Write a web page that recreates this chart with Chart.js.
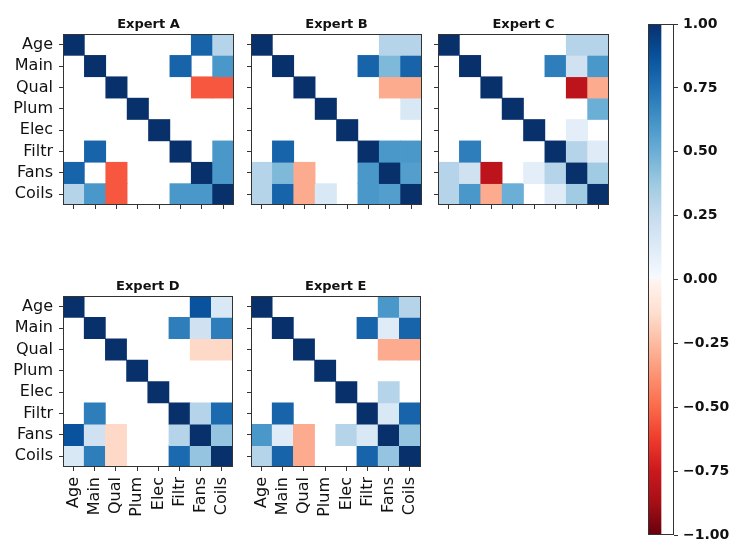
<!DOCTYPE html>
<html><head><meta charset="utf-8">
<script src="https://cdn.jsdelivr.net/npm/chart.js@4.4.0/dist/chart.umd.min.js"></script>
<style>
html,body{margin:0;padding:0;background:#fff;overflow:hidden;width:732px;height:541px;position:relative;}
canvas{position:absolute;}
</style></head><body>
<canvas id="cA"></canvas><canvas id="cB"></canvas><canvas id="cC"></canvas>
<canvas id="cD"></canvas><canvas id="cE"></canvas><canvas id="cBar"></canvas>
<script>
// ---- data ----
const categories = ["Age","Main","Qual","Plum","Elec","Filtr","Fans","Coils"];
const titles = ["Expert A","Expert B","Expert C","Expert D","Expert E"];
const _ = null;
const expertA = [
  [1,_,_,_,_,_,0.8,0.3],
  [_,1,_,_,_,0.8,_,0.6],
  [_,_,1,_,_,_,-0.55,-0.55],
  [_,_,_,1,_,_,_,_],
  [_,_,_,_,1,_,_,_],
  [_,0.8,_,_,_,1,_,0.6],
  [0.8,_,-0.55,_,_,_,1,0.6],
  [0.3,0.6,-0.55,_,_,0.6,0.6,1]
];
const expertB = [
  [1,_,_,_,_,_,0.3,0.3],
  [_,1,_,_,_,0.8,0.45,0.8],
  [_,_,1,_,_,_,-0.3,-0.3],
  [_,_,_,1,_,_,_,0.15],
  [_,_,_,_,1,_,_,_],
  [_,0.8,_,_,_,1,0.6,0.6],
  [0.3,0.45,-0.3,_,_,0.6,1,0.57],
  [0.3,0.8,-0.3,0.15,_,0.6,0.57,1]
];
const expertC = [
  [1,_,_,_,_,_,0.3,0.3],
  [_,1,_,_,_,0.7,0.2,0.6],
  [_,_,1,_,_,_,-0.8,-0.3],
  [_,_,_,1,_,_,_,0.5],
  [_,_,_,_,1,_,0.1,_],
  [_,0.7,_,_,_,1,0.3,0.12],
  [0.3,0.2,-0.8,_,0.1,0.3,1,0.37],
  [0.3,0.6,-0.3,0.5,_,0.12,0.37,1]
];
const expertD = [
  [1,_,_,_,_,_,0.87,0.15],
  [_,1,_,_,_,0.7,0.2,0.7],
  [_,_,1,_,_,_,-0.15,-0.15],
  [_,_,_,1,_,_,_,_],
  [_,_,_,_,1,_,_,_],
  [_,0.7,_,_,_,1,0.3,0.78],
  [0.87,0.2,-0.15,_,_,0.3,1,0.4],
  [0.15,0.7,-0.15,_,_,0.78,0.4,1]
];
const expertE = [
  [1,_,_,_,_,_,0.6,0.3],
  [_,1,_,_,_,0.8,0.12,0.8],
  [_,_,1,_,_,_,-0.3,-0.3],
  [_,_,_,1,_,_,_,_],
  [_,_,_,_,1,_,0.3,_],
  [_,0.8,_,_,_,1,0.15,0.8],
  [0.6,0.12,-0.3,_,0.3,0.15,1,0.4],
  [0.3,0.8,-0.3,_,_,0.8,0.4,1]
];
const colorbarTicks = [-1,-0.75,-0.5,-0.25,0,0.25,0.5,0.75,1];

// ---- colormap (Reds below 0, Blues above 0) ----
const BLUES = ['#f7fbff','#deebf7','#c6dbef','#9ecae1','#6baed6','#4292c6','#2171b5','#08519c','#08306b'];
const REDS  = ['#fff5f0','#fee0d2','#fcbba1','#fc9272','#fb6a4a','#ef3b2c','#cb181d','#a50f15','#67000d'];
function hex(h){return [parseInt(h.slice(1,3),16),parseInt(h.slice(3,5),16),parseInt(h.slice(5,7),16)];}
function interp(stops, t){
  const p = Math.max(0, Math.min(1, t)) * (stops.length - 1);
  const i = Math.min(Math.floor(p), stops.length - 2), f = p - i;
  const a = hex(stops[i]), b = hex(stops[i+1]);
  return 'rgb(' + a.map((v,k)=>Math.round(v + (b[k]-v)*f)).join(',') + ')';
}
function cmap(v){ return v >= 0 ? interp(BLUES, v) : interp(REDS, -v); }

Chart.defaults.font.family = "'DejaVu Sans', sans-serif";
Chart.defaults.color = '#111';

const framePlugin = {
  id: 'frame',
  afterDraw(chart, args, opts) {
    const {ctx, chartArea: a} = chart;
    ctx.save();
    ctx.strokeStyle = '#333'; ctx.lineWidth = 1;
    ctx.strokeRect(Math.round(a.left) + 0.5, Math.round(a.top) + 0.5,
                   Math.round(a.right) - Math.round(a.left) - 1, Math.round(a.bottom) - Math.round(a.top) - 1);
    if (opts && opts.title) {
      ctx.fillStyle = '#111';
      ctx.font = "bold 13px 'DejaVu Sans', sans-serif";
      ctx.textAlign = 'center'; ctx.textBaseline = 'alphabetic';
      ctx.fillText(opts.title, (a.left + a.right) / 2, a.top - 6);
    }
    ctx.restore();
  }
};

const panels = [
  {id:'cA', m:expertA, t:titles[0], L:63,  T:34,  R:234, B:205, yl:true,  xl:false},
  {id:'cB', m:expertB, t:titles[1], L:251, T:34,  R:422, B:205, yl:false, xl:false},
  {id:'cC', m:expertC, t:titles[2], L:438, T:34,  R:609, B:205, yl:false, xl:false},
  {id:'cD', m:expertD, t:titles[3], L:63,  T:296, R:234, B:467, yl:true,  xl:true},
  {id:'cE', m:expertE, t:titles[4], L:251, T:296, R:422, B:467, yl:false, xl:true}
];

const YW = 70, TOP = 40, RP = 14, XH = 75;
panels.forEach(p => {
  const cv = document.getElementById(p.id);
  const cw = YW + (p.R - p.L) + RP, ch = TOP + (p.B - p.T) + XH;
  cv.width = cw; cv.height = ch;
  cv.style.left = (p.L - YW) + 'px'; cv.style.top = (p.T - TOP) + 'px';
  cv.style.width = cw + 'px'; cv.style.height = ch + 'px';
  const datasets = categories.map((rowName, i) => ({
    label: rowName,
    data: categories.map((c, j) => p.m[i][j] === null ? null : [i - 0.5, i + 0.5]),
    backgroundColor: categories.map((c, j) => p.m[i][j] === null ? 'rgba(0,0,0,0)' : cmap(p.m[i][j])),
    borderWidth: 0,
    borderSkipped: false,
    grouped: false,
    barPercentage: 1,
    categoryPercentage: 1
  }));
  new Chart(cv, {
    type: 'bar',
    data: { labels: categories, datasets },
    options: {
      responsive: false, animation: false, events: [],
      layout: { padding: { left: 0, top: TOP, right: RP, bottom: 0 } },
      plugins: { legend: {display:false}, tooltip: {enabled:false}, frame: { title: p.t } },
      scales: {
        x: {
          type: 'category', offset: true,
          grid: { display: true, offset: false, drawOnChartArea: false, drawTicks: true, tickLength: 4, color: '#333' },
          border: { display: false },
          ticks: { display: p.xl, minRotation: 90, maxRotation: 90, autoSkip: false, padding: 6,
                   font: { size: 16 }, color: '#111' },
          afterFit(s) { s.height = XH; }
        },
        y: {
          type: 'linear', min: -0.5, max: 7.5, reverse: true,
          afterBuildTicks(s) { s.ticks = categories.map((c, i) => ({ value: i })); },
          grid: { display: true, drawOnChartArea: false, drawTicks: true, tickLength: 4, color: '#333' },
          border: { display: false },
          ticks: { display: p.yl, autoSkip: false, padding: 6, font: { size: 16 }, color: '#111',
                   callback: (v) => categories[Math.round(v)] },
          afterFit(s) { s.width = YW; }
        }
      }
    },
    plugins: [framePlugin]
  });
});

// ---- colorbar ----
(function(){
  const cv = document.getElementById('cBar');
  const CL = 630, CT = 0, CW = 102, CH = 565;
  const barL = 648, barR = 674, barT = 24, barB = 535;
  cv.width = CW; cv.height = CH;
  cv.style.left = CL + 'px'; cv.style.top = CT + 'px';
  cv.style.width = CW + 'px'; cv.style.height = CH + 'px';
  new Chart(cv, {
    type: 'bar',
    data: { labels: [''], datasets: [{
      data: [[colorbarTicks[0], colorbarTicks[colorbarTicks.length - 1]]],
      barPercentage: 1, categoryPercentage: 1, borderWidth: 0, borderSkipped: false,
      backgroundColor(ctx) {
        const chart = ctx.chart, a = chart.chartArea;
        if (!a) return '#888';
        const ys = chart.scales.y;
        const y0 = ys.getPixelForValue(-1), y1 = ys.getPixelForValue(1);
        const g = chart.ctx.createLinearGradient(0, y0, 0, y1);
        for (let k = REDS.length - 1; k >= 0; k--) g.addColorStop((1 - k / 8) / 2, REDS[k]);
        for (let k = 0; k < BLUES.length; k++) g.addColorStop(0.5 + k / 16, BLUES[k]);
        return g;
      }
    }] },
    options: {
      responsive: false, animation: false, events: [],
      layout: { padding: { left: barL - CL, top: barT - CT, right: 0, bottom: CT + CH - barB } },
      plugins: { legend: {display:false}, tooltip: {enabled:false}, frame: {} },
      scales: {
        x: { display: false, offset: false },
        y: {
          type: 'linear', position: 'right', min: -1, max: 1,
          afterBuildTicks(s) { s.ticks = colorbarTicks.map(v => ({ value: v })); },
          grid: { display: true, drawOnChartArea: false, drawTicks: true, tickLength: 4, color: '#333' },
          border: { display: false },
          ticks: { padding: 5, font: { size: 14, weight: 'bold' }, color: '#111',
                   callback: (v) => (v < 0 ? '\u2212' : '') + Math.abs(v).toFixed(2) },
          afterFit(s) { s.width = CL + CW - barR; }
        }
      }
    },
    plugins: [framePlugin]
  });
})();
</script>
</body></html>
